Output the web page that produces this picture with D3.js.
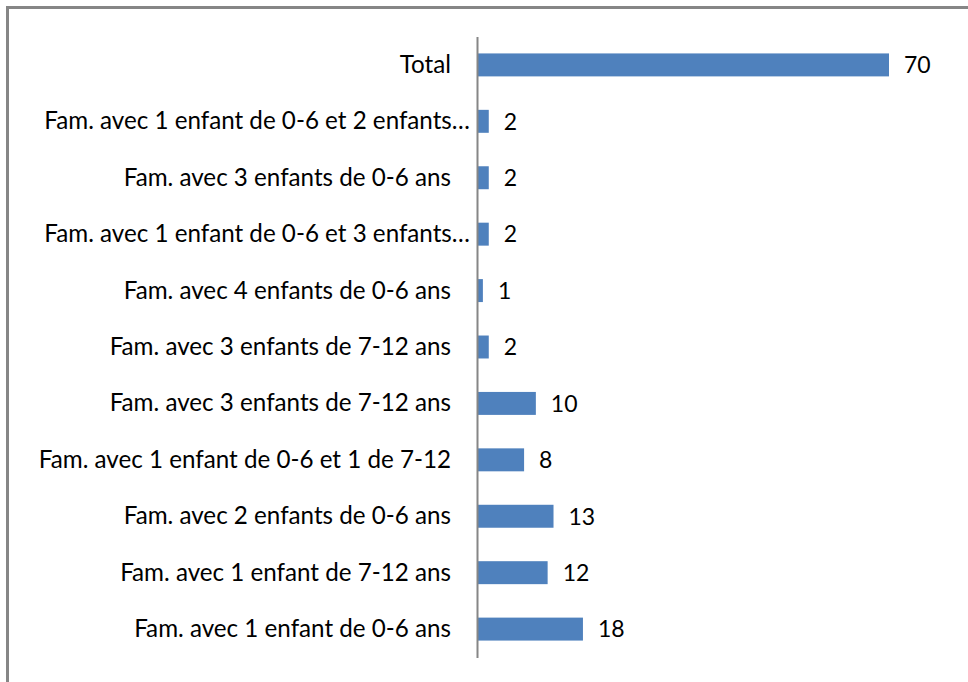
<!DOCTYPE html>
<html><head><meta charset="utf-8">
<script src="https://cdn.jsdelivr.net/npm/d3@7"></script>
<style>body{margin:0;background:#fff}svg{display:block}</style>
</head><body>
<svg id="c" width="968" height="682"></svg>
<script>
const categories = [
  "Total",
  "Fam. avec 1 enfant de 0-6 et 2 enfants…",
  "Fam. avec 3 enfants de 0-6 ans",
  "Fam. avec 1 enfant de 0-6 et 3 enfants…",
  "Fam. avec 4 enfants de 0-6 ans",
  "Fam. avec 3 enfants de 7-12 ans",
  "Fam. avec 3 enfants de 7-12 ans",
  "Fam. avec 1 enfant de 0-6 et 1 de 7-12",
  "Fam. avec 2 enfants de 0-6 ans",
  "Fam. avec 1 enfant de 7-12 ans",
  "Fam. avec 1 enfant de 0-6 ans"
];
const values = [70, 2, 2, 2, 1, 2, 10, 8, 13, 12, 18];

const svg = d3.select("#c");
const font = "Lato, 'Open Sans', sans-serif";

// frame (clipped at right/bottom like the reference)
svg.append("rect").attr("x", 7.5).attr("y", 7.5).attr("width", 980).attr("height", 700)
  .attr("fill", "none").attr("stroke", "#868686").attr("stroke-width", 3);

const x0 = 477;
const x = d3.scaleLinear().domain([0, 70]).range([x0, 889]);
const idx = d3.range(categories.length);
const y = d3.scaleBand().domain(idx).range([36.5, 657.5]).paddingInner(0.593).paddingOuter(0.3);

svg.append("g").selectAll("rect").data(idx).join("rect")
  .attr("x", x(0)).attr("y", i => y(i))
  .attr("width", i => x(values[i]) - x(0)).attr("height", y.bandwidth())
  .attr("fill", "#4F81BD");

const ax = svg.append("g").attr("transform", `translate(${x0},0)`)
  .call(d3.axisLeft(y).tickSize(0).tickPadding(26).tickFormat(i => categories[i]));
ax.select(".domain").attr("stroke", "#868686").attr("stroke-width", 2);
ax.selectAll(".tick text")
  .attr("font-family", font).attr("font-size", 24.2).attr("fill", "#000")
  .attr("dy", "0.33em")
  .attr("x", i => categories[i].endsWith("…") ? -7 : -26);

svg.append("g").selectAll("text").data(idx).join("text")
  .attr("x", i => x(values[i]) + 15).attr("y", i => y(i) + y.bandwidth() / 2)
  .attr("dy", "0.36em")
  .attr("font-family", font).attr("font-size", 23).attr("fill", "#000")
  .text(i => values[i]);
</script>
</body></html>
